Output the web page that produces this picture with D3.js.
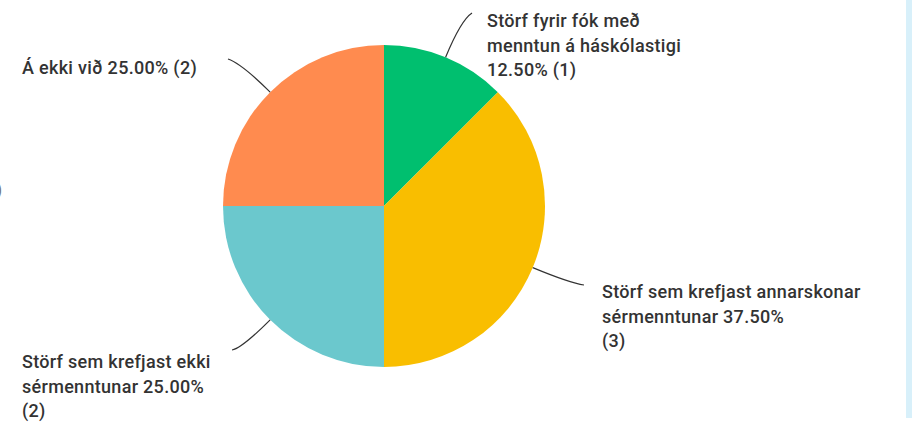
<!DOCTYPE html>
<html>
<head>
<meta charset="utf-8">
<script src="https://cdn.jsdelivr.net/npm/d3@7"></script>
<style>
  body { margin: 0; background: #fff; }
  svg { display: block; }
</style>
</head>
<body>
<svg id="chart"></svg>
<script>
// svarflokkar, fjöldi svara og hlutfall
const categories = [
  ['Störf fyrir fók með', 'menntun á háskólastigi', '12.50% (1)'],
  ['Störf sem krefjast annarskonar', 'sérmenntunar 37.50%', '(3)'],
  ['Störf sem krefjast ekki', 'sérmenntunar 25.00%', '(2)'],
  ['Á ekki við 25.00% (2)']
];
const counts = [1, 3, 2, 2];
const colors = ['#00bf6f', '#f9be00', '#6bc8cd', '#ff8b4f'];

// hvar textinn byrjar (vinstri brún, fyrsta grunnlína) og endi leiðarlínu
const labelPos = [
  { x: 487, y: 27, lx: 472, ly: 13 },
  { x: 602, y: 298, lx: 584, ly: 285 },
  { x: 22, y: 368, lx: 232, ly: 350 },
  { x: 22, y: 74, lx: 228, ly: 59 }
];

const width = 915, height = 422;
const cx = 384, cy = 206, r = 161;
const lineH = 24.5;

const svg = d3.select('#chart')
    .attr('width', width)
    .attr('height', height);

// ljósblá rönd hægra megin
svg.append('rect')
    .attr('x', 906).attr('y', 0)
    .attr('width', 6).attr('height', 418)
    .attr('fill', '#d8f0fa');

// afskorið tákn við vinstri brún (skorið af í frumritinu líka)
svg.append('text')
    .attr('x', -4).attr('y', 196)
    .attr('font-family', 'Roboto, sans-serif')
    .attr('font-size', 18)
    .attr('fill', '#777')
    .text(')');

const pie = d3.pie().sort(null).value(d => d);
const arcs = pie(counts);

const arc = d3.arc().innerRadius(0).outerRadius(r);
const edge = d3.arc().innerRadius(r).outerRadius(r);
const ctrl = d3.arc().innerRadius(r * 1.25).outerRadius(r * 1.25);

const g = svg.append('g')
    .attr('transform', 'translate(' + cx + ',' + cy + ')');

g.selectAll('path.slice')
    .data(arcs)
  .enter().append('path')
    .attr('class', 'slice')
    .attr('d', arc)
    .attr('fill', (d, i) => colors[i]);

// leiðarlínur
g.selectAll('path.leader')
    .data(arcs)
  .enter().append('path')
    .attr('class', 'leader')
    .attr('fill', 'none')
    .attr('stroke', '#333')
    .attr('stroke-width', 1.2)
    .attr('d', (d, i) => {
      const a = edge.centroid(d);
      const c = ctrl.centroid(d);
      const p = labelPos[i];
      const path = d3.path();
      path.moveTo(a[0], a[1]);
      path.quadraticCurveTo(c[0], c[1], p.lx - cx, p.ly - cy);
      return path.toString();
    });

// merkingar
const labels = svg.selectAll('text.label')
    .data(categories)
  .enter().append('text')
    .attr('class', 'label')
    .attr('font-family', 'Roboto, sans-serif')
    .attr('font-weight', 500)
    .attr('font-size', 18)
    .attr('letter-spacing', 0.3)
    .attr('fill', '#333');

labels.each(function(lines, i) {
  const p = labelPos[i];
  d3.select(this).selectAll('tspan')
      .data(lines)
    .enter().append('tspan')
      .attr('x', p.x)
      .attr('y', (d, j) => p.y + j * lineH)
      .text(d => d);
});
</script>
</body>
</html>
